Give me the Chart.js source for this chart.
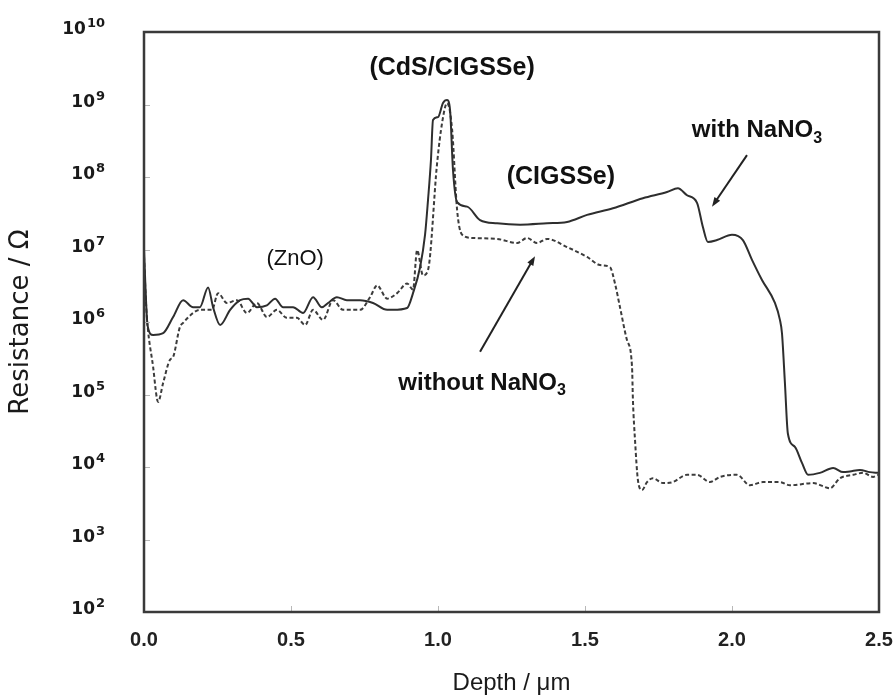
<!DOCTYPE html>
<html>
<head>
<meta charset="utf-8">
<script src="https://cdn.jsdelivr.net/npm/chart.js@4.4.1/dist/chart.umd.min.js"></script>
<style>
  html, body { margin: 0; background: #fff; }
  #wrap { width: 894px; height: 699px; }
</style>
</head>
<body>
<div id="wrap"><canvas id="depthChart"></canvas></div>
<script>
// sample treated with NaNO3 (solid line)
const depthWith = [0, 0.005, 0.012, 0.031, 0.065, 0.099, 0.133, 0.167, 0.190, 0.218,
  0.235, 0.259, 0.293, 0.327, 0.354, 0.384, 0.418, 0.446, 0.473, 0.507,
  0.541, 0.575, 0.605, 0.626, 0.656, 0.690, 0.735, 0.779, 0.827, 0.847,
  0.895, 0.915, 0.939, 0.956, 0.966, 0.976, 0.983, 1.000, 1.017, 1.031,
  1.041, 1.051, 1.065, 1.099, 1.143, 1.201, 1.279, 1.371, 1.439, 1.507,
  1.595, 1.697, 1.779, 1.816, 1.847, 1.881, 1.901, 1.918, 1.949, 2.000,
  2.037, 2.068, 2.102, 2.146, 2.163, 2.170, 2.180, 2.190, 2.214, 2.238,
  2.259, 2.299, 2.344, 2.378, 2.401, 2.435, 2.469, 2.497];
const resWith = [1.0e7, 3.0e6, 9.0e5, 6.6e5, 7.0e5, 1.17e6, 2.0e6, 1.6e6, 1.6e6, 3.0e6,
  1.6e6, 9.1e5, 1.47e6, 2.0e6, 2.1e6, 1.6e6, 1.7e6, 2.1e6, 1.6e6, 1.6e6,
  1.33e6, 2.2e6, 1.6e6, 1.83e6, 2.2e6, 2.0e6, 2.0e6, 1.83e6, 1.47e6, 1.47e6,
  1.56e6, 2.5e6, 5.7e6, 1.6e7, 4.8e7, 1.7e8, 6.1e8, 6.7e8, 1.05e9, 1.15e9,
  8.4e8, 1.25e8, 4.5e7, 3.9e7, 2.55e7, 2.3e7, 2.2e7, 2.3e7, 2.4e7, 3.0e7,
  3.7e7, 5.1e7, 6.2e7, 7.0e7, 5.6e7, 4.4e7, 2.04e7, 1.27e7, 1.35e7, 1.6e7,
  1.35e7, 7.2e6, 3.8e6, 1.83e6, 1.07e6, 7.0e5, 1.44e5, 2.9e4, 1.9e4, 1.14e4,
  7.8e3, 8.3e3, 9.7e3, 8.5e3, 8.7e3, 9.1e3, 8.5e3, 8.3e3];

// untreated sample (dashed line)
const depthWithout = [0, 0.008, 0.031, 0.048, 0.065, 0.088, 0.099, 0.122, 0.133, 0.167,
  0.190, 0.231, 0.252, 0.282, 0.316, 0.350, 0.384, 0.418, 0.452, 0.486,
  0.520, 0.548, 0.575, 0.609, 0.643, 0.677, 0.735, 0.769, 0.793, 0.827,
  0.861, 0.895, 0.915, 0.929, 0.949, 0.966, 0.997, 1.014, 1.031, 1.048,
  1.065, 1.082, 1.119, 1.201, 1.269, 1.303, 1.337, 1.371, 1.439, 1.507,
  1.551, 1.585, 1.602, 1.619, 1.643, 1.660, 1.663, 1.670, 1.680, 1.694,
  1.711, 1.731, 1.765, 1.799, 1.847, 1.881, 1.925, 1.959, 2.017, 2.061,
  2.105, 2.163, 2.197, 2.276, 2.333, 2.367, 2.412, 2.446, 2.480, 2.497];
const resWithout = [8.0e6, 1.5e6, 2.4e5, 7.9e4, 1.44e5, 3.0e5, 3.3e5, 8.5e5, 9.7e5, 1.33e6,
  1.47e6, 1.47e6, 2.5e6, 1.83e6, 2.0e6, 1.33e6, 1.83e6, 1.17e6, 1.47e6, 1.14e6,
  1.14e6, 9.1e5, 1.47e6, 1.07e6, 2.0e6, 1.47e6, 1.47e6, 2.2e6, 3.2e6, 2.1e6,
  2.5e6, 3.4e6, 2.8e6, 9.8e6, 4.4e6, 5.2e6, 1.56e8, 5.6e8, 1.05e9, 4.5e8,
  3.5e7, 1.6e7, 1.44e7, 1.4e7, 1.23e7, 1.44e7, 1.23e7, 1.4e7, 1.08e7, 7.9e6,
  6.1e6, 5.7e6, 3.4e6, 1.6e6, 5.6e5, 2.4e5, 8.4e4, 2.4e4, 6.6e3, 4.8e3,
  6.2e3, 7.0e3, 6.0e3, 6.2e3, 7.8e3, 7.8e3, 6.2e3, 7.3e3, 7.8e3, 5.6e3,
  6.2e3, 6.2e3, 5.6e3, 6.0e3, 5.1e3, 7.0e3, 7.8e3, 8.3e3, 7.3e3, 7.8e3];

const xTicks = [0, 0.5, 1.0, 1.5, 2.0, 2.5];
const yExponents = [2, 3, 4, 5, 6, 7, 8, 9, 10];

// text and arrows placed in data units (depth, resistance)
const labels = [
  { text: "(CdS/CIGSSe)", at: [1.048, 3.2e9], font: 'bold 25px "Liberation Sans"' },
  { text: "(ZnO)", at: [0.514, 7.4e6], font: '22px "Liberation Sans"' },
  { text: "(CIGSSe)", at: [1.418, 1.0e8], font: 'bold 25px "Liberation Sans"' },
  { text: "with NaNO", sub: "3", at: [2.085, 4.4e8], font: 'bold 24px "Liberation Sans"' },
  { text: "without NaNO", sub: "3", at: [1.150, 1.44e5], font: 'bold 24px "Liberation Sans"' }
];
const arrows = [
  { from: [2.051, 2.0e8], to: [1.932, 3.9e7] },
  { from: [1.143, 3.9e5], to: [1.330, 8.1e6] }
];

const toPoints = (xs, ys) => xs.map((d, i) => ({ x: d, y: ys[i] }));

function drawArrow(ctx, x0, y0, x1, y1) {
  const ang = Math.atan2(y1 - y0, x1 - x0);
  const head = 10;
  ctx.beginPath();
  ctx.moveTo(x0, y0);
  ctx.lineTo(x1 - Math.cos(ang) * head * 0.8, y1 - Math.sin(ang) * head * 0.8);
  ctx.stroke();
  ctx.beginPath();
  ctx.moveTo(x1, y1);
  ctx.lineTo(x1 - head * Math.cos(ang - 0.35), y1 - head * Math.sin(ang - 0.35));
  ctx.lineTo(x1 - head * Math.cos(ang + 0.35), y1 - head * Math.sin(ang + 0.35));
  ctx.closePath();
  ctx.fill();
}

const overlay = {
  id: "overlay",
  afterDatasetsDraw(chart) {
    const { ctx, chartArea: a, scales: { x, y } } = chart;
    ctx.save();

    // small inward ticks
    ctx.strokeStyle = "#b8b8b8";
    ctx.lineWidth = 1;
    for (const v of xTicks.slice(1, -1)) {
      const px = Math.round(x.getPixelForValue(v)) + 0.5;
      ctx.beginPath(); ctx.moveTo(px, a.bottom); ctx.lineTo(px, a.bottom - 6); ctx.stroke();
    }
    for (const e of yExponents.slice(1, -1)) {
      const py = Math.round(y.getPixelForValue(Math.pow(10, e))) + 0.5;
      ctx.beginPath(); ctx.moveTo(a.left, py); ctx.lineTo(a.left + 6, py); ctx.stroke();
    }

    // plot frame
    ctx.strokeStyle = "#3a3a3a";
    ctx.lineWidth = 2.5;
    ctx.strokeRect(a.left, a.top, a.right - a.left, a.bottom - a.top);

    // y tick labels as 10 with raised exponent
    ctx.fillStyle = "#1a1a1a";
    ctx.textBaseline = "middle";
    ctx.textAlign = "left";
    for (const e of yExponents) {
      const py = y.getPixelForValue(Math.pow(10, e));
      ctx.font = 'bold 13px "DejaVu Sans"';
      const ew = ctx.measureText(String(e)).width;
      ctx.font = 'bold 17px "DejaVu Sans"';
      const bw = ctx.measureText("10").width;
      const left = a.left - 40 - ew - bw;
      ctx.fillText("10", left, py - 2);
      ctx.font = 'bold 13px "DejaVu Sans"';
      ctx.fillText(String(e), left + bw + 1, py - 8);
    }

    // layer names and sample labels
    ctx.fillStyle = "#111";
    for (const l of labels) {
      const cx = x.getPixelForValue(l.at[0]);
      const cy = y.getPixelForValue(l.at[1]);
      ctx.font = l.font;
      const w = ctx.measureText(l.text).width;
      let sw = 0;
      const subFont = l.font.replace(/\d+px/, "16px");
      if (l.sub) {
        ctx.font = subFont;
        sw = ctx.measureText(l.sub).width;
      }
      const start = cx - (w + sw) / 2;
      ctx.font = l.font;
      ctx.fillText(l.text, start, cy);
      if (l.sub) {
        ctx.font = subFont;
        ctx.fillText(l.sub, start + w, cy + 8);
      }
    }

    ctx.strokeStyle = "#222";
    ctx.fillStyle = "#222";
    ctx.lineWidth = 2;
    for (const ar of arrows) {
      drawArrow(ctx,
        x.getPixelForValue(ar.from[0]), y.getPixelForValue(ar.from[1]),
        x.getPixelForValue(ar.to[0]), y.getPixelForValue(ar.to[1]));
    }
    ctx.restore();
  }
};

new Chart(document.getElementById("depthChart"), {
  type: "line",
  data: {
    datasets: [
      {
        label: "with NaNO3",
        data: toPoints(depthWith, resWith),
        borderColor: "#2e2e2e",
        borderWidth: 2,
        pointRadius: 0,
        cubicInterpolationMode: "monotone"
      },
      {
        label: "without NaNO3",
        data: toPoints(depthWithout, resWithout),
        borderColor: "#3c3c3c",
        borderWidth: 2,
        borderDash: [4, 2.5],
        pointRadius: 0,
        cubicInterpolationMode: "monotone"
      }
    ]
  },
  options: {
    responsive: true,
    maintainAspectRatio: false,
    animation: false,
    events: [],
    layout: { padding: { top: 32, right: 15, left: 0, bottom: 0 } },
    plugins: { legend: { display: false }, tooltip: { enabled: false } },
    scales: {
      x: {
        type: "linear",
        min: 0,
        max: 2.5,
        afterBuildTicks: (scale) => { scale.ticks = xTicks.map((v) => ({ value: v })); },
        afterFit: (scale) => {
          scale.height = 87;
          scale.paddingLeft = 0;
          scale.paddingRight = 0;
        },
        grid: { display: false, drawTicks: false },
        border: { display: false },
        ticks: {
          padding: 16,
          color: "#222",
          font: { family: "Liberation Sans", size: 20, weight: "bold" },
          callback: (v) => Number(v).toFixed(1)
        },
        title: {
          display: true,
          text: "Depth / μm",
          color: "#1a1a1a",
          font: { family: "Liberation Sans", size: 24 },
          padding: { top: 0, bottom: 1 }
        }
      },
      y: {
        type: "logarithmic",
        min: 1e2,
        max: 1e10,
        afterBuildTicks: (scale) => { scale.ticks = yExponents.map((e) => ({ value: Math.pow(10, e) })); },
        afterFit: (scale) => { scale.width = 144; },
        grid: { display: false, drawTicks: false },
        border: { display: false },
        ticks: { callback: () => "" },
        title: {
          display: true,
          text: "Resistance / Ω",
          color: "#1a1a1a",
          font: { family: "DejaVu Sans", size: 26 },
          padding: { top: 6, bottom: 0 }
        }
      }
    }
  },
  plugins: [overlay]
});
</script>
</body>
</html>
